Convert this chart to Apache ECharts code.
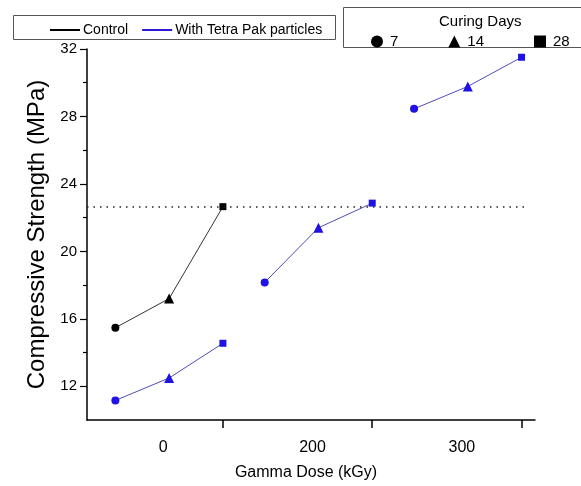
<!DOCTYPE html>
<html><head><meta charset="utf-8">
<script src="https://cdn.jsdelivr.net/npm/echarts@6/dist/echarts.min.js"></script>
<style>html,body{margin:0;padding:0;background:#fff}#c{width:581px;height:486px}</style>
</head><body><div id="c"></div>
<script>
// ---- data ----
const doseLabels = ['0', '200', '300'];
const curingDays = ['7', '14', '28'];
const dayOffsets = [0.28, 0.64, 1.0];          // position of each curing day inside a dose group
const controlValues = [15.47, 17.2, 22.65];     // control, dose 0
const tetra0 = [11.16, 12.49, 14.55];           // Tetra Pak, 0 kGy
const tetra200 = [18.16, 21.4, 22.86];          // Tetra Pak, 200 kGy
const tetra300 = [28.45, 29.78, 31.51];         // Tetra Pak, 300 kGy
const yTickLabels = [12, 16, 20, 24, 28, 32];
const yMinorTicks = [14, 18, 22, 26, 30];
const xGroupTicks = [1, 2, 3];
const xLabelPos = [0.6, 1.6, 2.6];
const refValue = 22.65;
const refRange = [0.09, 3.04];

const FONT = "'Liberation Sans', Arial, sans-serif";
const symbols = ['circle', 'triangle', 'rect'];
const symSizes = [8, 10, 7];
const BLUE = '#1f12e4';

function makeData(group, vals) {
  return vals.map((v, i) => ({
    value: [group + dayOffsets[i], v],
    symbol: symbols[i],
    symbolSize: symSizes[i]
  }));
}

const chart = echarts.init(document.getElementById('c'), null, {renderer: 'canvas'});
const tetraGroups = [tetra0, tetra200, tetra300];

const series = [
  {
    name: 'Control', type: 'line', data: makeData(0, controlValues),
    itemStyle: {color: '#000'}, lineStyle: {color: '#333', width: 1},
    showAllSymbol: true, animation: false,
    markLine: {
      silent: true, symbol: 'none', label: {show: false},
      lineStyle: {color: '#222', type: [1.5, 5], width: 1.5},
      data: [[{coord: [refRange[0], refValue]}, {coord: [refRange[1], refValue]}]]
    }
  }
];
tetraGroups.forEach((vals, g) => {
  series.push({
    name: 'With Tetra Pak particles', type: 'line', data: makeData(g, vals),
    itemStyle: {color: BLUE}, lineStyle: {color: '#4d4db8', width: 1},
    animation: false
  });
});
curingDays.forEach((d, i) => {
  series.push({name: d, type: 'line', data: [], symbol: symbols[i], itemStyle: {color: '#000'}});
});

chart.setOption({
  animation: false,
  textStyle: {fontFamily: FONT},
  grid: {left: 87, right: 46, top: 49, bottom: 63},
  legend: [
    {
      left: 45, top: 18, itemWidth: 30, itemHeight: 2, itemGap: 14, selectedMode: false,
      textStyle: {fontFamily: FONT, fontSize: 14, color: '#000', padding: [0, 0, 0, -2]},
      data: [
        {name: 'Control', icon: 'rect', itemStyle: {color: '#000'}},
        {name: 'With Tetra Pak particles', icon: 'rect', itemStyle: {color: '#2a1ad8'}}
      ]
    },
    {
      left: 366, top: 29, itemWidth: 12, itemHeight: 12, itemGap: 50, selectedMode: false,
      textStyle: {fontFamily: FONT, fontSize: 15, color: '#000', padding: [0, 0, 0, 2]},
      data: curingDays.map((d, i) => ({name: d, icon: symbols[i], itemStyle: {color: '#000'}}))
    }
  ],
  graphic: [
    {type: 'rect', shape: {x: 13.5, y: 15.5, width: 322, height: 24}, style: {fill: 'none', stroke: '#555', lineWidth: 1}, z: -1},
    {type: 'rect', shape: {x: 343.5, y: 7.5, width: 260, height: 40}, style: {fill: 'none', stroke: '#555', lineWidth: 1}, z: -1},
    {type: 'text', left: 439, top: 14, style: {text: 'Curing Days', font: "15px 'Liberation Sans', Arial, sans-serif", fill: '#000'}}
  ],
  xAxis: {
    type: 'value', min: 0.09, max: 3.09,
    name: 'Gamma Dose (kGy)', nameLocation: 'middle', nameGap: 45,
    nameTextStyle: {fontFamily: FONT, fontSize: 16, color: '#000', padding: [0, 10, 0, 0]},
    axisLine: {show: true, lineStyle: {color: '#000', width: 1.5}},
    axisTick: {show: true, length: 8, inside: false, customValues: xGroupTicks, lineStyle: {color: '#000', width: 1.5}},
    axisLabel: {customValues: xLabelPos, margin: 20, fontSize: 16, color: '#000', fontFamily: FONT,
      formatter: v => doseLabels[Math.round(v - 0.6)]},
    splitLine: {show: false}
  },
  yAxis: [
    {
      type: 'value', min: 10, max: 32,
      name: 'Compressive Strength (MPa)', nameLocation: 'middle', nameGap: 28,
      nameTextStyle: {fontFamily: FONT, fontSize: 24, color: '#000'},
      axisLine: {show: true, lineStyle: {color: '#000', width: 1.5}},
      axisTick: {show: true, length: 7, customValues: yTickLabels, lineStyle: {color: '#000', width: 1.2}},
      axisLabel: {customValues: yTickLabels, margin: 10, fontSize: 15, color: '#000', fontFamily: FONT},
      splitLine: {show: false}
    },
    {
      type: 'value', min: 10, max: 32, position: 'left',
      axisLine: {show: false},
      axisTick: {show: true, length: 4, customValues: yMinorTicks, lineStyle: {color: '#000', width: 1.2}},
      axisLabel: {show: false},
      splitLine: {show: false}
    }
  ],
  series: series
});
</script></body></html>
